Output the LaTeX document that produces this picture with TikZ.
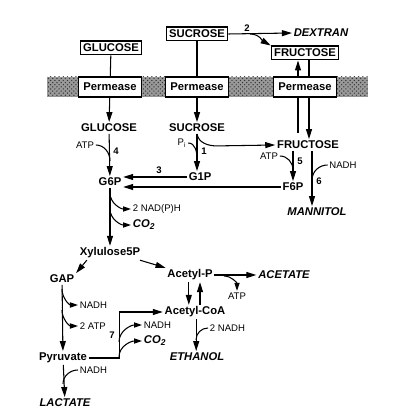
\documentclass[tikz,border=0pt]{standalone}
\usepackage{fontspec}
\setmainfont{Liberation Sans}
\usetikzlibrary{arrows.meta,patterns}

\begin{document}
\begin{tikzpicture}[x=0.025cm, y=-0.025cm, line width=0.75pt,
	met/.style={font=\fontsize{8}{9.5}\selectfont\bfseries, inner sep=1pt},
	prod/.style={font=\fontsize{8}{9.5}\selectfont\bfseries\itshape, inner sep=1pt},
	lab/.style={font=\fontsize{6.8}{8}\selectfont, inner sep=1pt},
	num/.style={font=\fontsize{6.8}{8}\selectfont\bfseries, inner sep=0pt},
	box/.style={met, draw, line width=1pt, inner sep=2pt},
	perm/.style={met, draw, line width=1pt, fill=white, minimum width=1.575cm, minimum height=0.5cm},
	arr/.style={-{Triangle[length=2.5mm,width=1.5mm]}},
	sarr/.style={-{Triangle[length=2mm,width=1.3mm]}}]

\useasboundingbox (0,0) rectangle (400,418);

% membrane
\fill[black!40] (47,77) rectangle (368,97);
\fill[pattern=crosshatch dots, pattern color=black!80] (47,77) rectangle (368,97);

\node[box] (glcbox) at (111,48) {GLUCOSE};
\node[box] (sucbox) at (197,34) {SUCROSE};
\node[box] (frubox) at (305,53) {FRUCTOSE};
\node[prod] (dex) at (321,33) {DEXTRAN};

\foreach \x/\n in {110/pa,197/pb,305/pc}
	\node[perm] (\n) at (\x,87) {Permease};

\node[met] (glc) at (109,128) {GLUCOSE};
\node[met] (suc) at (197,128) {SUCROSE};
\node[met] (fru) at (308,145) {FRUCTOSE};
\node[met] (g6p) at (110,182) {G6P};
\node[met] (g1p) at (200,177) {G1P};
\node[met] (f6p) at (293,187) {F6P};
\node[prod] (mtl) at (317,212) {MANNITOL};
\node[met] (xyl) at (110,253) {Xylulose5P};
\node[met] (gap) at (62,279) {GAP};
\node[met] (acp) at (190,275) {Acetyl-P};
\node[prod] (ace) at (284,275) {ACETATE};
\node[met] (acoa) at (195,312) {Acetyl-CoA};
\node[met] (pyr) at (63,358) {Pyruvate};
\node[prod] (lac) at (65,403) {LACTATE};
\node[prod] (eth) at (197,357) {ETHANOL};

% cofactors
\node[lab] (atp4) at (85,145) {ATP};
\node[lab] (pi) at (182,143) {P\textsubscript{i}};
\node[lab] (atp5) at (269,156) {ATP};
\node[lab] (nadh6) at (343,165) {NADH};
\node[lab, anchor=west] (nadp) at (131,209) {2 NAD(P)H};
\node[prod, anchor=west] (co2a) at (131,225) {CO\textsubscript{2}};
\node[lab, anchor=west] (nadhg) at (78,305) {NADH};
\node[lab, anchor=west] (atpg) at (78,326) {2 ATP};
\node[lab, anchor=west] (nadh7) at (142,325) {NADH};
\node[prod, anchor=west] (co2b) at (142,341) {CO\textsubscript{2}};
\node[lab, anchor=west] (nadhl) at (78,370) {NADH};
\node[lab] (atpa) at (237,296) {ATP};
\node[lab, anchor=west] (nadhe) at (208,328) {2 NADH};

% enzyme numbers
\node[num] at (116,151) {4};
\node[num] at (204,151) {1};
\node[num] at (159,170) {3};
\node[num] at (247,28) {2};
\node[num] at (300,161) {5};
\node[num] at (319,181) {6};
\node[num] at (112,335) {7};

% transport
\coordinate (fin) at (298,133);
\draw (glcbox) -- (pa);
\draw[arr] (pa) -- (glc);
\draw (sucbox) -- (pb);
\draw[arr] (pb) -- (suc);
\draw[arr] (sucbox.east) -- (dex.west);
\draw[arr] (250,34) to[out=0,in=150] (frubox.north west);
\draw ([xshift=0.1cm]frubox.south) -- ([xshift=0.1cm]frubox.south |- pc.north);
\draw[arr] ([xshift=0.1cm]frubox.south |- pc.south) -- ([xshift=0.1cm]frubox.south |- fru.north);
\draw (fin) -- (fin |- pc.south);
\draw[arr] (fin |- pc.north) -- (fin |- frubox.south);

% glucose, sucrose, fructose
\draw[arr] (glc) -- (g6p);
\draw (atp4.east) to[out=0,in=90] (110,161);
\draw[arr] (suc.south) -- (suc.south |- g1p.north);
\draw (pi.east) to[out=0,in=90] (197,159);
\draw[arr] (suc.south) to[out=-80,in=180] ++(20,12) -- (fru.west);
\draw[arr] (g1p.west) -- (g1p.west -| g6p.east);
\draw[arr] (f6p.west) -- (f6p.west -| g6p.east);
\draw[arr] (f6p.north |- fru.south) -- (f6p.north);
\draw (atp5.east) to[out=0,in=90] (293,170);
\draw[arr] ([xshift=0.1cm]fru.south) -- ([xshift=0.1cm]fru.south |- mtl.north);
\draw (nadh6.west) to[out=180,in=90] (312,180);

% pentose phosphate
\draw[arr] (g6p) -- (xyl);
\draw[sarr] (110,193) to[out=-90,in=180] (nadp.west);
\draw[sarr] (110,209) to[out=-90,in=180] (co2a.west);
\draw[arr] ([xshift=0.22cm]xyl.south west) -- (gap.north east);
\draw[arr] ([xshift=-0.05cm]xyl.south east) -- (acp.north west);

% glycolysis
\draw[arr] (gap) -- (pyr);
\draw[sarr] (62,289) to[out=-90,in=180] (nadhg.west);
\draw[sarr] (62,310) to[out=-90,in=180] (atpg.west);
\draw[arr] (pyr.east) -- ++(31,0) |- (acoa.west);
\draw[sarr] (119,342) to[out=90,in=180] (nadh7.west);
\draw[sarr] (119,357) to[out=90,in=180] (co2b.west);
\draw[arr] (pyr) -- (lac);
\draw (nadhl.west) to[out=180,in=90] (63,384);

% acetate, ethanol
\draw[arr] (acp.east) -- (ace.west);
\draw[sarr] (224,276) to[out=0,in=90] (atpa.north);
\draw[arr] ([xshift=-0.03cm]acp.south) -- ([xshift=-0.03cm]acp.south |- acoa.north);
\draw[arr] ([xshift=0.25cm]acp.south |- acoa.north) -- ([xshift=0.25cm]acp.south);
\draw[arr] ([xshift=0.03cm]acoa.south) -- ([xshift=0.03cm]acoa.south |- eth.north);
\draw (nadhe.west) to[out=180,in=90] (196,340);

\end{tikzpicture}
\end{document}
